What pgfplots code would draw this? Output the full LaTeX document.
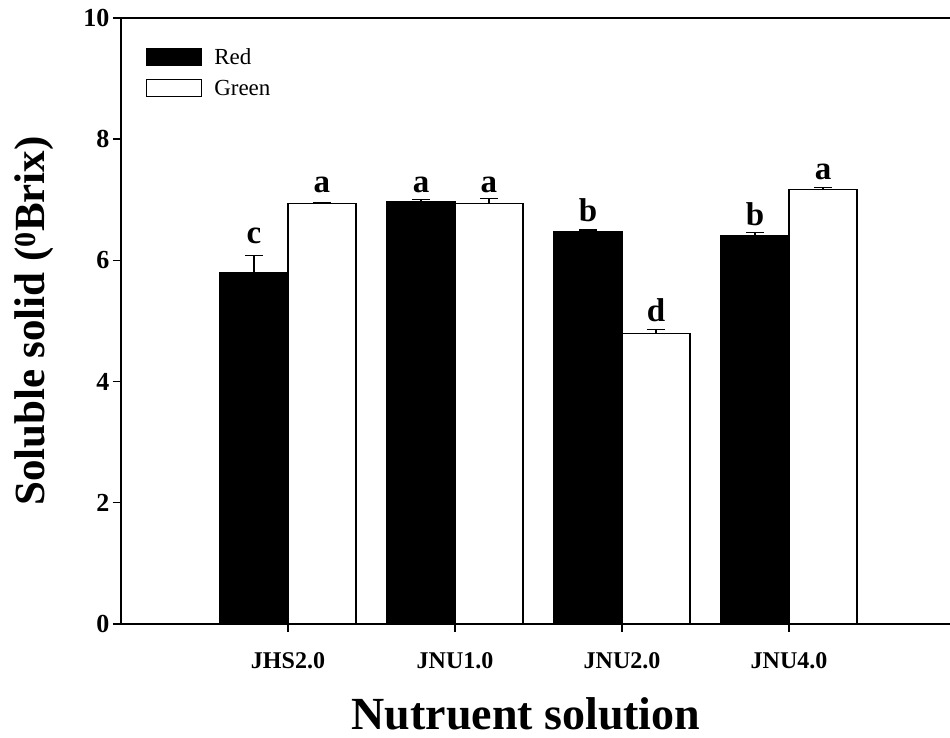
\documentclass[border=0pt]{standalone}
\usepackage{pgfplots}
\pgfplotsset{compat=1.18}
\usepackage{fontspec}
\setmainfont{Liberation Serif}
\begin{document}
\begin{tikzpicture}
\begin{axis}[
  scale only axis, width=829pt, height=606pt,
  xmin=-1, xmax=3.964, ymin=0, ymax=10,
  clip=false,
  axis lines*=left,
  axis line style={line width=1.6pt},
  xtick={0,1,2,3}, xticklabels={JHS2.0,JNU1.0,JNU2.0,JNU4.0},
  ytick={0,2,4,6,8,10},
  tick align=outside, major tick length=8pt,
  tick style={line width=1.4pt, black},
  xtick style={line width=1.4pt, black},
  /pgf/number format/assume math mode=true,
  xticklabel style={font=\bfseries\fontsize{24}{24}\selectfont, yshift=-17pt},
  yticklabel style={font=\bfseries\fontsize{26}{26}\selectfont},
  xlabel={Nutruent solution},
  ylabel={Soluble solid (\textsuperscript{0}Brix)},
  xlabel style={font=\bfseries\fontsize{46}{46}\selectfont, at={(axis description cs:0.4885,0)}, anchor=base, yshift=-105pt},
  ylabel style={font=\bfseries\fontsize{43}{43}\selectfont, at={(axis description cs:-0.105,0.5)}, anchor=center},
  legend cell align=left,
  legend style={draw=none, fill=none, at={(axis description cs:0.03,0.951)}, anchor=north west,
    font=\fontsize{23}{23}\selectfont, row sep=13pt, inner sep=0pt,
    nodes={inner sep=0pt, text depth=0pt},
    /tikz/every odd column/.append style={column sep=12pt}},
  legend image code/.code={\draw[#1, line width=1.2pt] (0pt,-8.5pt) rectangle (55pt,8.5pt);},
]
\addplot[ybar, bar width=0.407, bar shift=0pt, fill=black, draw=black, line width=1.2pt,
  error bars/.cd, y dir=plus, y explicit,
  error bar style={line width=1.2pt, black},
  error mark options={rotate=90, mark size=9pt, line width=1.4pt, black}]
  coordinates {(-0.2035,5.80) +- (0,0.28) (0.7965,6.97) +- (0,0.03) (1.7965,6.47) +- (0,0.03) (2.7965,6.41) +- (0,0.05)};
\addplot[ybar, bar width=0.407, bar shift=0pt, fill=white, draw=black, line width=1.2pt,
  error bars/.cd, y dir=plus, y explicit,
  error bar style={line width=1.2pt, black},
  error mark options={rotate=90, mark size=9pt, line width=1.4pt, black}]
  coordinates {(0.2035,6.94) +- (0,0.02) (1.2035,6.94) +- (0,0.08) (2.2035,4.80) +- (0,0.06) (3.2035,7.17) +- (0,0.03)};
\legend{Red,Green}
\addplot[forget plot, draw=none, mark=none, nodes near coords, point meta=explicit symbolic,
  every node near coord/.style={anchor=base, inner sep=0pt, font=\bfseries\fontsize{33}{33}\selectfont}]
  coordinates {(-0.2035,6.28)[c] (0.2035,7.12)[a] (0.7965,7.12)[a] (1.2035,7.12)[a]
               (1.7965,6.65)[b] (2.2035,4.99)[d] (2.7965,6.58)[b] (3.2035,7.34)[a]};
\draw[line width=1.6pt] (rel axis cs:0,1) -- (rel axis cs:1,1);
\end{axis}
\pgfresetboundingbox
\path (current axis.south west) ++(-121pt,-114pt) rectangle ++(950pt,738pt);
\end{tikzpicture}
\end{document}
